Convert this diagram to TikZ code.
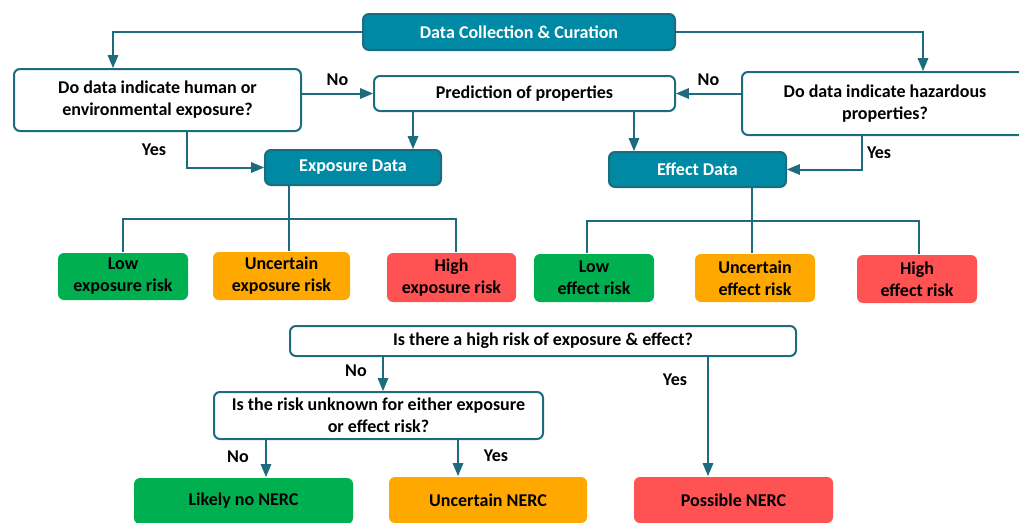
\documentclass[tikz,border=0pt]{standalone}
\usepackage{fontspec}
\setmainfont{Carlito}
\usetikzlibrary{arrows}
\definecolor{tealfill}{RGB}{0,137,164}
\definecolor{tealline}{RGB}{28,108,126}
\definecolor{riskgreen}{RGB}{0,176,80}
\definecolor{riskorange}{RGB}{255,168,0}
\definecolor{riskred}{RGB}{255,82,82}

\begin{document}
\begin{tikzpicture}[x = 1pt, y = -1pt, line width = 2pt,
  every node/.style = {align = center, inner sep = 0pt, rounded corners = 6pt, font = \bfseries\fontsize{18}{22}\selectfont},
  tealbox/.style = {fill = tealfill, draw = tealline, text = white},
  askbox/.style = {fill = white, draw = tealline},
  tag/.style = {fill = none, draw = none},
  link/.style = {draw = tealline, -triangle 45},
  wire/.style = {draw = tealline}]

	\clip (0, 0) rectangle (1019, 522);

	\node (dcc)     at (519,   32)   [tealbox, minimum width = 312pt, minimum height = 36pt] {Data Collection \& Curation};
	\node (q1)      at (157.5, 100)  [askbox,  minimum width = 287pt, minimum height = 62pt] {Do data indicate human or\\environmental exposure?};
	\node (pred)    at (524.5, 93.5) [askbox,  minimum width = 301pt, minimum height = 35pt] {Prediction of properties};
	\node (q2)      at (885,   103.5)[askbox,  minimum width = 286pt, minimum height = 63pt] {Do data indicate hazardous\\properties?};
	\node (exp)     at (353,   167.5)[tealbox, minimum width = 176pt, minimum height = 35pt] {Exposure Data};
	\node (eff)     at (697.5, 169.5)[tealbox, minimum width = 177pt, minimum height = 35pt] {Effect Data};

	\node (lowexp)  at (123,   276.5)[fill = riskgreen,  minimum width = 130pt, minimum height = 47pt] {Low\\exposure risk};
	\node (uncexp)  at (281.5, 276)  [fill = riskorange, minimum width = 137pt, minimum height = 48pt] {Uncertain\\exposure risk};
	\node (highexp) at (451.5, 277.5)[fill = riskred,    minimum width = 129pt, minimum height = 49pt] {High\\exposure risk};
	\node (loweff)  at (594,   278)  [fill = riskgreen,  minimum width = 120pt, minimum height = 48pt] {Low\\effect risk};
	\node (unceff)  at (755,   278)  [fill = riskorange, minimum width = 120pt, minimum height = 48pt] {Uncertain\\effect risk};
	\node (higheff) at (917,   279)  [fill = riskred,    minimum width = 120pt, minimum height = 48pt] {High\\effect risk};

	\node (q3)      at (543,   341)  [askbox,  minimum width = 506pt, minimum height = 30pt] {Is there a high risk of exposure \& effect?};
	\node (q4)      at (378.5, 415.5)[askbox,  minimum width = 329pt, minimum height = 47pt] {Is the risk unknown for either exposure\\or effect risk?};
	\node (likely)  at (243.5, 501)  [fill = riskgreen,  minimum width = 219pt, minimum height = 46pt] {Likely no NERC};
	\node (uncnerc) at (488,   500)  [fill = riskorange, minimum width = 198pt, minimum height = 46pt] {Uncertain NERC};
	\node (posnerc) at (733.5, 500)  [fill = riskred,    minimum width = 199pt, minimum height = 46pt] {Possible NERC};

	\coordinate (expbus) at (289, 219);
	\coordinate (effbus) at (752, 221);

	\draw [link] (dcc.west) -| ([xshift = 100pt]q1.north west);
	\draw [link] (dcc.east) -| ([xshift = 182pt]q2.north west);
	\draw [link] (q1.east |- pred.west) -- node[tag, above = 7pt] (no1) {No} (pred.west);
	\draw [link] (q2.west |- pred.east) -- node[tag, above = 7pt] (no2) {No} (pred.east);
	\draw [link] ([xshift = 174pt]q1.south west) |- node[tag, pos = 0.25, left = 20pt] (yes1) {Yes} (exp.west);
	\draw [link] ([xshift = 121pt]q2.south west) |- node[tag, pos = 0.25, right = 4pt] (yes2) {Yes} (eff.east);

	\foreach \from/\dx/\to in {pred/40/exp, pred/261/eff, q3/94/q4, q3/419/posnerc, q4/53/likely, q4/245/uncnerc}
		\draw [link] ([xshift = \dx pt]\from.south west) -- ([xshift = \dx pt]\from.south west |- \to.north);

	\node (no3)  at (356, 371) [tag] {No};
	\node (yes3) at (675, 380) [tag] {Yes};
	\node (no4)  at (238, 457) [tag] {No};
	\node (yes4) at (496, 456) [tag] {Yes};

	\draw [wire] (exp.south -| expbus) -- (expbus |- uncexp.north);
	\draw [wire] (lowexp.north) |- (expbus) -| ([xshift = 4pt]highexp.north);
	\draw [wire] (eff.south -| effbus) -- (effbus |- unceff.north);
	\draw [wire] ([xshift = -7pt]loweff.north) |- (effbus) -| ([xshift = 2pt]higheff.north);

\end{tikzpicture}
\end{document}
